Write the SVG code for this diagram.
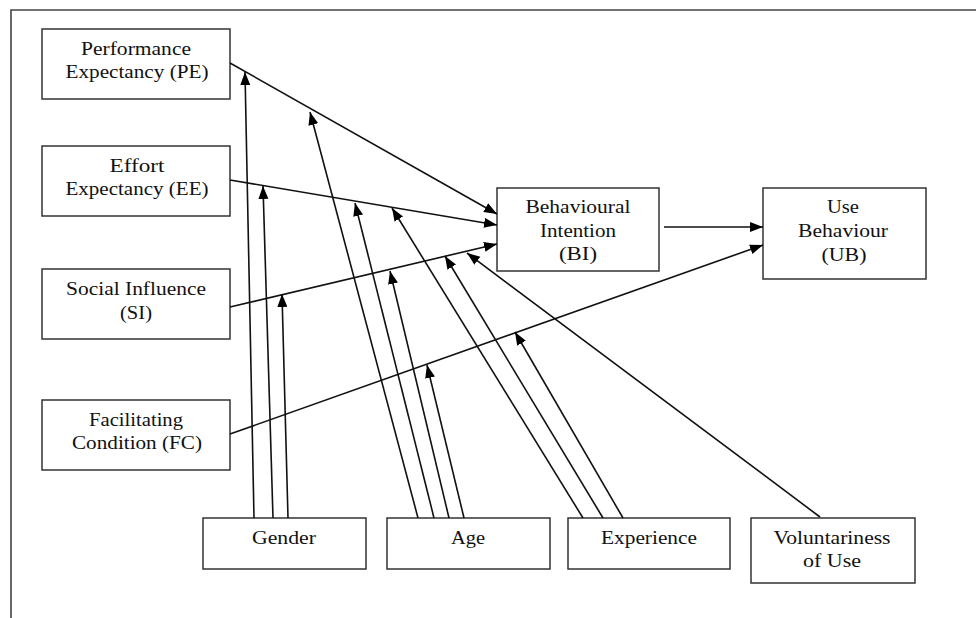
<svg xmlns="http://www.w3.org/2000/svg" width="976" height="618" viewBox="0 0 976 618">
<style>
.box{fill:#fff;stroke:#333;stroke-width:1.5}
.t{font-family:"Liberation Serif","Times New Roman",serif;font-size:18px;fill:#111;text-anchor:middle}
.c{stroke:#111;stroke-width:1.6;fill:none;marker-end:url(#ah)}
.frame{stroke:#444;stroke-width:1.6;fill:none}
</style>
<defs>
<marker id="ah" markerUnits="userSpaceOnUse" markerWidth="14" markerHeight="12" refX="13" refY="5" orient="auto">
<path d="M0,0 L13,5 L0,10 Z" fill="#000"/>
</marker>
</defs>
<rect width="976" height="618" fill="#fff"/>
<path class="frame" d="M11,618 L11,10 L976,10"/>
<g id="PE"><rect class="box" x="42" y="29" width="188" height="70"/>
<text class="t" x="136" y="55" textLength="110" lengthAdjust="spacingAndGlyphs">Performance</text>
<text class="t" x="137" y="78" textLength="143" lengthAdjust="spacingAndGlyphs">Expectancy (PE)</text></g>
<g id="EE"><rect class="box" x="42" y="146" width="188" height="70"/>
<text class="t" x="137" y="172" textLength="55" lengthAdjust="spacingAndGlyphs">Effort</text>
<text class="t" x="137" y="195" textLength="143" lengthAdjust="spacingAndGlyphs">Expectancy (EE)</text></g>
<g id="SI"><rect class="box" x="42" y="269" width="188" height="70"/>
<text class="t" x="136" y="295" textLength="140" lengthAdjust="spacingAndGlyphs">Social Influence</text>
<text class="t" x="136" y="319" textLength="32" lengthAdjust="spacingAndGlyphs">(SI)</text></g>
<g id="FC"><rect class="box" x="42" y="400" width="188" height="70"/>
<text class="t" x="136" y="426" textLength="94" lengthAdjust="spacingAndGlyphs">Facilitating</text>
<text class="t" x="137" y="449" textLength="130" lengthAdjust="spacingAndGlyphs">Condition (FC)</text></g>
<g id="BI"><rect class="box" x="497" y="188" width="162" height="83"/>
<text class="t" x="578" y="213" textLength="105" lengthAdjust="spacingAndGlyphs">Behavioural</text>
<text class="t" x="578" y="237" textLength="76" lengthAdjust="spacingAndGlyphs">Intention</text>
<text class="t" x="578" y="260" textLength="38" lengthAdjust="spacingAndGlyphs">(BI)</text></g>
<g id="UB"><rect class="box" x="763" y="188" width="163" height="91"/>
<text class="t" x="843" y="213" textLength="32" lengthAdjust="spacingAndGlyphs">Use</text>
<text class="t" x="843" y="237" textLength="90" lengthAdjust="spacingAndGlyphs">Behaviour</text>
<text class="t" x="844" y="261" textLength="45" lengthAdjust="spacingAndGlyphs">(UB)</text></g>
<g id="Gender"><rect class="box" x="203" y="518" width="163" height="51"/>
<text class="t" x="284" y="544" textLength="64" lengthAdjust="spacingAndGlyphs">Gender</text></g>
<g id="Age"><rect class="box" x="387" y="518" width="163" height="51"/>
<text class="t" x="468" y="544" textLength="34" lengthAdjust="spacingAndGlyphs">Age</text></g>
<g id="Experience"><rect class="box" x="568" y="518" width="162" height="51"/>
<text class="t" x="649" y="544" textLength="96" lengthAdjust="spacingAndGlyphs">Experience</text></g>
<g id="Voluntariness"><rect class="box" x="751" y="518" width="164" height="65"/>
<text class="t" x="832" y="544" textLength="117" lengthAdjust="spacingAndGlyphs">Voluntariness</text>
<text class="t" x="832" y="567" textLength="58" lengthAdjust="spacingAndGlyphs">of Use</text></g>
<g id="connectors">
<line class="c" x1="230" y1="63" x2="497" y2="214"/>
<line class="c" x1="230" y1="180" x2="497" y2="225"/>
<line class="c" x1="230" y1="307" x2="497" y2="244"/>
<line class="c" x1="230" y1="434" x2="763" y2="245"/>
<line class="c" x1="664" y1="227" x2="763" y2="227"/>
<line class="c" x1="254" y1="518" x2="245" y2="72"/>
<line class="c" x1="273" y1="518" x2="263" y2="186"/>
<line class="c" x1="288" y1="518" x2="282" y2="294"/>
<line class="c" x1="418" y1="518" x2="310" y2="112"/>
<line class="c" x1="434" y1="518" x2="355" y2="203"/>
<line class="c" x1="449" y1="518" x2="390" y2="271"/>
<line class="c" x1="464" y1="518" x2="427" y2="365"/>
<line class="c" x1="583" y1="518" x2="392" y2="208"/>
<line class="c" x1="603" y1="518" x2="445" y2="256"/>
<line class="c" x1="623" y1="518" x2="515" y2="332"/>
<line class="c" x1="820" y1="517" x2="467" y2="253"/>
</g>
</svg>
